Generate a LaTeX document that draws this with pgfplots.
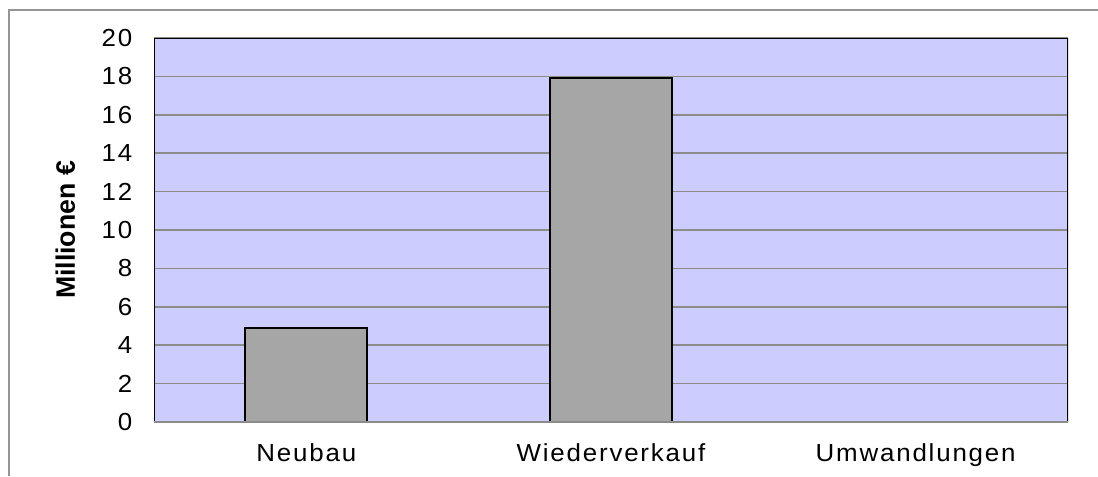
\documentclass[border=0pt]{standalone}
\usepackage{pgfplots}
\pgfplotsset{compat=1.18}
\usepackage{fontspec}
\setmainfont{Liberation Sans}
\newfontfamily\tickfont[LetterSpace=7]{Liberation Sans}
\definecolor{plotbg}{HTML}{CCCCFF}
\definecolor{bargray}{HTML}{A6A6A6}
\definecolor{gridgray}{HTML}{8C8C8C}
\definecolor{framegray}{HTML}{959595}
\begin{document}
\begin{tikzpicture}[x=0.75pt,y=0.75pt]
\useasboundingbox (0,0) rectangle (1098,476);
\draw[framegray, line width=1.5pt] (9,0) -- (9,466) -- (1100,466);
\begin{axis}[
  at={(115.5pt,40.5pt)}, anchor=south west,
  width=685.5pt, height=288pt, scale only axis,
  xmin=-0.5, xmax=2.5, ymin=0, ymax=20,
  xtick={0,1,2}, xticklabels={Neubau,Wiederverkauf,Umwandlungen},
  ytick={0,2,...,20},
  major tick length=0pt,
  axis line style={draw=none},
  axis background/.style={fill=plotbg},
  ymajorgrids, grid style={gridgray, line width=1.1pt},
  /pgf/number format/assume math mode=true,
  tick label style={font=\tickfont\fontsize{18.5}{21}\selectfont, xscale=1.05},
  yticklabel style={xshift=-12pt},
  xticklabel style={yshift=-13pt},
  ylabel={Millionen €},
  every axis y label/.style={at={(axis description cs:-0.097,0.5)}, rotate=90, anchor=center, font=\bfseries\fontsize{20}{23}\selectfont},
  ybar, bar width=91.5pt,
]
\addplot[fill=bargray, draw=black, line width=1.3pt] coordinates {(0,4.9) (1,17.9) (2,0)};
\draw[black, line width=1.5pt] (rel axis cs:0,0) -- (rel axis cs:0,1) -- (rel axis cs:1,1) -- (rel axis cs:1,0);
\draw[gridgray, line width=1.5pt] (rel axis cs:0,0) -- (rel axis cs:1,0);
\end{axis}
\end{tikzpicture}
\end{document}
